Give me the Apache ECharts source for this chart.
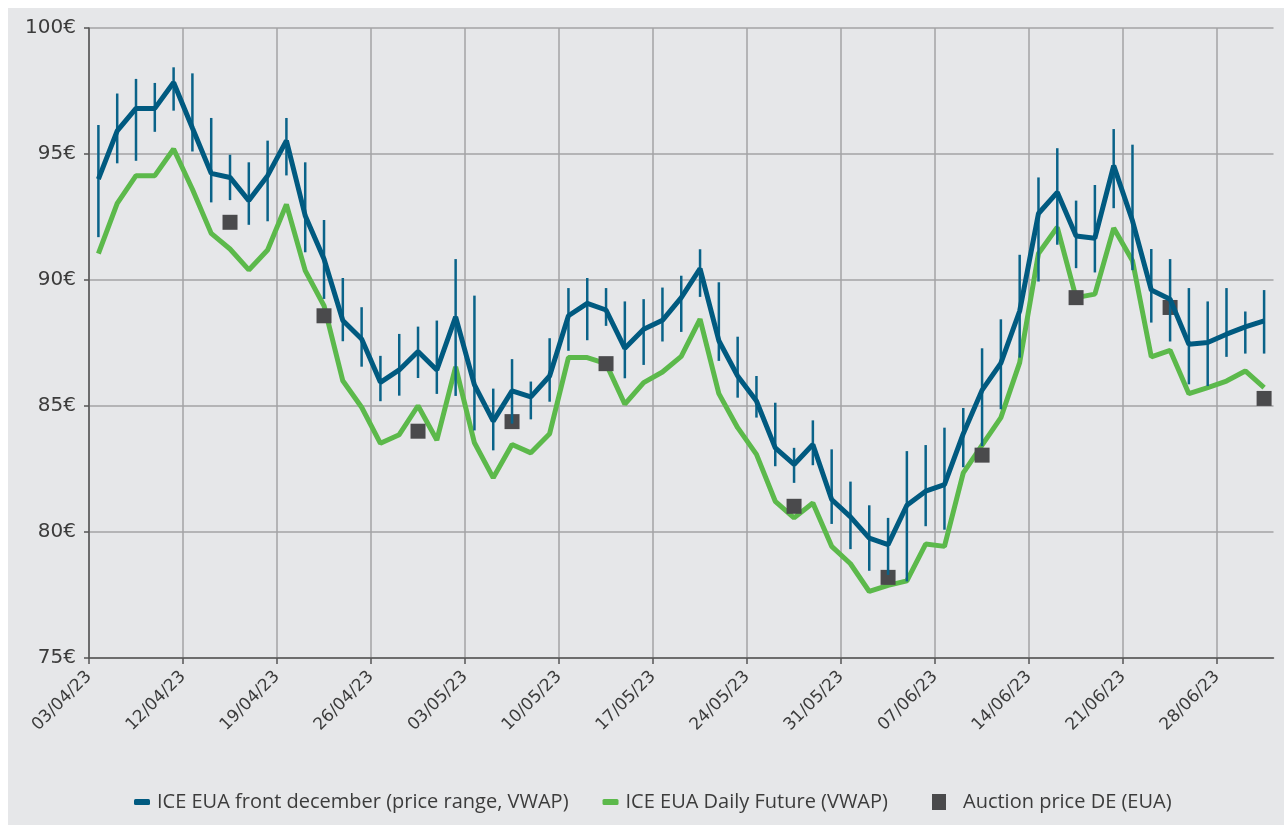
<!DOCTYPE html>
<html>
<head>
<meta charset="utf-8">
<title>EUA prices Q2 2023</title>
<script src="https://cdn.jsdelivr.net/npm/echarts@6/dist/echarts.min.js"></script>
<style>
  html, body { margin: 0; padding: 0; background: #ffffff; }
  #main { position: absolute; left: 8px; top: 8px; width: 1276px; height: 817px; background: #e6e7e9; }
</style>
</head>
<body>
<div id="main"></div>
<script>
// tick labels, one every 5 trading days (03/04/23 .. 30/06/23 = 63 days)
var tickLabels = ['03/04/23', '12/04/23', '19/04/23', '26/04/23', '03/05/23', '10/05/23',
    '17/05/23', '24/05/23', '31/05/23', '07/06/23', '14/06/23', '21/06/23', '28/06/23'];
var dayCount = 63;

// ICE EUA front december, VWAP
var frontVwap = [94.0, 95.92, 96.81, 96.81, 97.84, 96.03, 94.23, 94.07, 93.15, 94.14,
    95.53, 92.55, 90.83, 88.39, 87.66, 85.94, 86.43, 87.16, 86.43, 88.54,
    85.84, 84.4, 85.6, 85.36, 86.19, 88.58, 89.07, 88.81, 87.29, 88.05,
    88.4, 89.3, 90.45, 87.59, 86.19, 85.2, 83.34, 82.68, 83.47, 81.29,
    80.6, 79.76, 79.5, 81.06, 81.62, 81.88, 83.9, 85.63, 86.7, 88.77,
    92.64, 93.48, 91.75, 91.66, 94.54, 92.35, 89.6, 89.24, 87.45, 87.52,
    87.85, 88.14, 88.38];
// ICE EUA front december, daily high
var frontHigh = [96.15, 97.4, 97.98, 97.82, 98.44, 98.2, 96.43, 94.97, 94.67, 95.53,
    96.43, 94.67, 92.38, 90.08, 88.92, 86.99, 87.86, 88.15, 88.39, 90.83,
    89.38, 85.69, 86.86, 85.97, 87.69, 89.68, 90.08, 89.68, 89.15, 89.24,
    89.7, 90.17, 91.22, 89.91, 87.75, 86.19, 85.13, 83.34, 84.43, 83.28,
    82.0, 81.06, 80.56, 83.21, 83.45, 84.14, 84.92, 87.29, 88.44, 91.0,
    94.07, 95.23, 93.15, 93.77, 95.99, 95.37, 91.23, 90.83, 89.68, 89.15,
    89.68, 88.75, 89.6];
// ICE EUA front december, daily low
var frontLow = [91.7, 94.63, 94.73, 95.88, 96.72, 95.1, 93.08, 93.17, 92.19, 92.33,
    94.15, 91.1, 89.25, 87.57, 86.56, 85.19, 85.41, 86.11, 85.48, 85.4,
    84.03, 83.24, 84.3, 84.47, 85.17, 87.19, 87.61, 88.18, 86.1, 86.63,
    87.56, 87.94, 89.33, 86.79, 85.33, 84.54, 82.61, 81.95, 82.65, 80.32,
    79.32, 78.46, 78.3, 78.04, 80.23, 80.09, 82.57, 83.41, 84.87, 86.92,
    89.94, 91.4, 90.47, 90.3, 92.85, 90.39, 88.31, 87.56, 85.86, 85.79,
    86.95, 87.08, 87.08];
// ICE EUA daily future, VWAP
var dailyVwap = [91.05, 93.04, 94.14, 94.14, 95.2, 93.6, 91.85, 91.23, 90.4, 91.19,
    93.0, 90.37, 88.98, 86.0, 84.95, 83.52, 83.86, 85.01, 83.65, 86.55,
    83.54, 82.15, 83.47, 83.14, 83.9, 86.92, 86.92, 86.68, 85.07, 85.93,
    86.35, 86.97, 88.45, 85.49, 84.14, 83.08, 81.22, 80.56, 81.15, 79.43,
    78.74, 77.64, 77.88, 78.06, 79.52, 79.43, 82.35, 83.45, 84.54, 86.72,
    91.05, 92.09, 89.3, 89.44, 92.06, 90.76, 86.95, 87.21, 85.49, 85.73,
    85.99, 86.39, 85.73];
// auction price DE: trading day index and price
var auctionDay = [7, 12, 17, 22, 27, 37, 42, 47, 52, 57, 62];
var auctionPrice = [92.29, 88.58, 84.0, 84.38, 86.68, 81.02, 78.2, 83.05, 89.3, 88.91, 85.3];

var BLUE = '#005a80';
var GREEN = '#5cb94b';
var GREY = '#4a4a4c';

// each day sits in the middle of its slot
function pairs(arr) {
    return arr.map(function (v, i) { return [i + 0.5, v]; });
}

// gridlines / ticks only at the labelled days
var tickValues = tickLabels.map(function (t, k) { return k * 5; });

var chart = echarts.init(document.getElementById('main'));

var option = {
    animation: false,
    textStyle: { fontFamily: 'DejaVu Sans' },
    grid: { left: 81, top: 20, width: 1184.5, height: 630, containLabel: false },
    xAxis: {
        type: 'value',
        min: 0,
        max: dayCount,
        interval: 5,
        axisLine: { show: true, onZero: false, lineStyle: { color: '#555', width: 1.5 } },
        axisTick: { show: true, length: 6, customValues: tickValues, lineStyle: { color: '#555', width: 1.5 } },
        splitLine: { show: true, lineStyle: { color: '#a3a3a5', width: 1.5 } },
        axisLabel: {
            rotate: 45,
            margin: 16,
            color: '#3c3c3c',
            fontSize: 17,
            fontFamily: 'DejaVu Sans',
            customValues: tickValues,
            formatter: function (v) {
                return tickLabels[Math.round(v / 5)] || '';
            }
        }
    },
    yAxis: {
        type: 'value',
        min: 75,
        max: 100,
        interval: 5,
        axisLine: { show: true, lineStyle: { color: '#555', width: 1.5 } },
        axisTick: { show: true, length: 5, lineStyle: { color: '#555', width: 1.5 } },
        splitLine: { show: true, lineStyle: { color: '#a3a3a5', width: 1.5 } },
        axisLabel: { color: '#3c3c3c', fontSize: 20, margin: 13, fontFamily: 'DejaVu Sans', formatter: '{value}€' }
    },
    legend: [{
        left: 121,
        top: 779,
        itemWidth: 16,
        itemHeight: 6,
        itemGap: 34,
        icon: 'roundRect',
        textStyle: { color: '#3c3c3c', fontSize: 20, fontFamily: 'Open Sans', padding: [0, 0, 0, 2] },
        data: ['ICE EUA front december (price range, VWAP)', 'ICE EUA Daily Future (VWAP)']
    }, {
        left: 919,
        top: 779,
        itemWidth: 14,
        itemHeight: 16,
        icon: 'rect',
        textStyle: { color: '#3c3c3c', fontSize: 20, fontFamily: 'Open Sans', padding: [0, 0, 0, 12] },
        data: ['Auction price DE (EUA)']
    }],
    series: [{
        name: 'ICE EUA Daily Future (VWAP)',
        type: 'line',
        data: pairs(dailyVwap),
        showSymbol: false,
        symbol: 'none',
        z: 2,
        itemStyle: { color: GREEN },
        lineStyle: { color: GREEN, width: 5 }
    }, {
        name: 'Auction price DE (EUA)',
        type: 'scatter',
        data: auctionDay.map(function (d, k) { return [d + 0.5, auctionPrice[k]]; }),
        symbol: 'rect',
        symbolSize: 15,
        z: 3,
        itemStyle: { color: GREY, opacity: 1 }
    }, {
        name: 'range',
        type: 'custom',
        z: 4,
        data: frontHigh.map(function (h, i) { return [i + 0.5, frontLow[i], h]; }),
        encode: { x: 0, y: [1, 2] },
        renderItem: function (params, api) {
            var lo = api.coord([api.value(0), api.value(1)]);
            var hi = api.coord([api.value(0), api.value(2)]);
            return {
                type: 'line',
                shape: { x1: lo[0], y1: lo[1], x2: hi[0], y2: hi[1] },
                style: { stroke: '#0a6389', lineWidth: 2.5 }
            };
        }
    }, {
        name: 'ICE EUA front december (price range, VWAP)',
        type: 'line',
        data: pairs(frontVwap),
        showSymbol: false,
        symbol: 'none',
        z: 5,
        itemStyle: { color: BLUE },
        lineStyle: { color: BLUE, width: 5 }
    }]
};

chart.setOption(option);
</script>
</body>
</html>
